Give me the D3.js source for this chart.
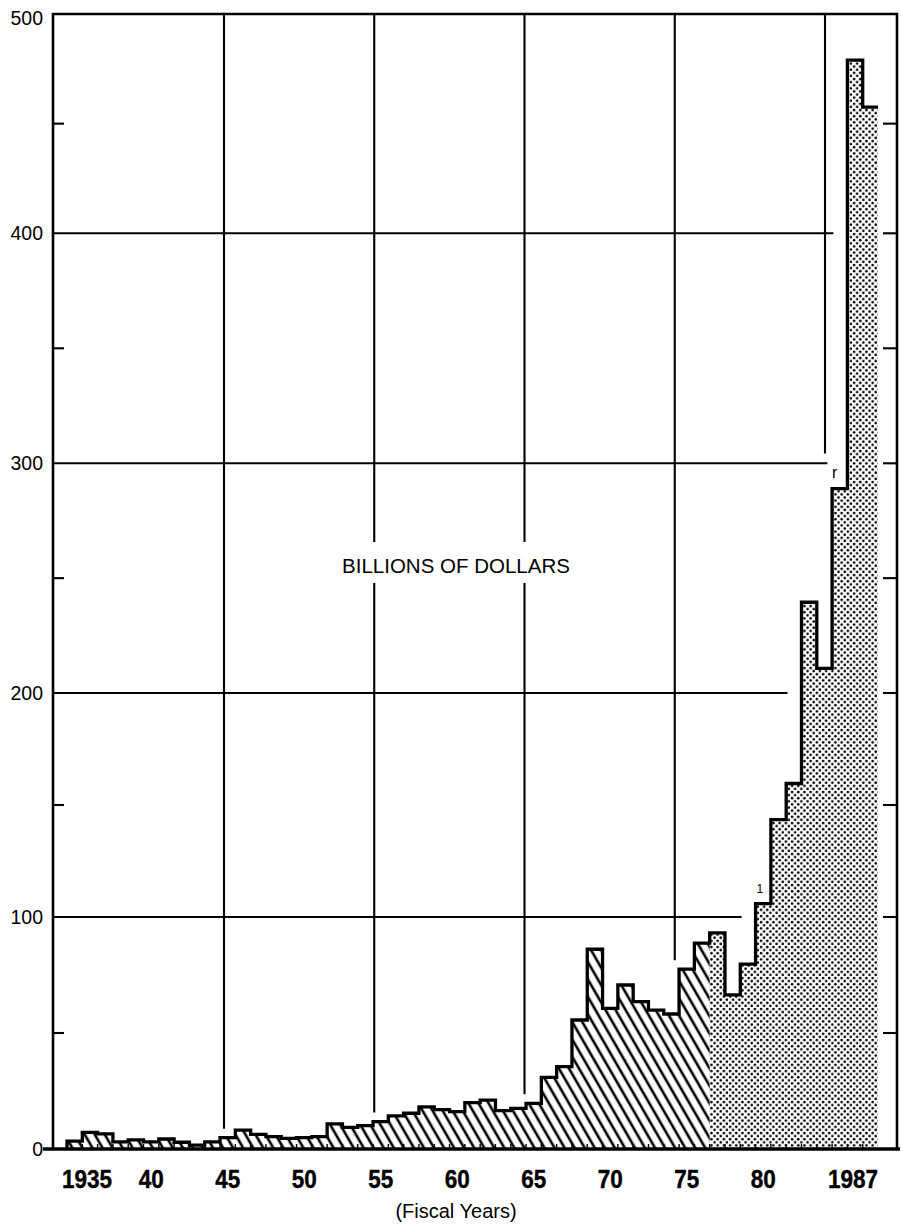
<!DOCTYPE html>
<html>
<head>
<meta charset="utf-8">
<script src="https://cdn.jsdelivr.net/npm/d3@7"></script>
<style>
  html, body { margin: 0; padding: 0; background: #fff; }
  svg { display: block; }
</style>
</head>
<body>
<svg id="chart" width="901" height="1226"></svg>
<script>
// ---------------- DATA ----------------
const years = d3.range(1935, 1988);           // fiscal years 1935..1987
const values = [                              // billions of dollars
  3.4, 7.2, 6.5, 3.1, 3.9, 3.1, 4.3, 2.9, 1.7, 3.1,          // 1935-44
  4.9, 8.1, 6.3, 5.3, 4.6, 4.9, 5.3, 10.8, 9.3, 10.1,        // 1945-54
  11.8, 14.3, 15.4, 18.2, 17.0, 16.1, 20.0, 21.1, 16.5, 17.5,// 1955-64
  19.7, 30.9, 35.5, 55.6, 86.1, 60.6, 70.7, 63.5, 59.9, 58.2,// 1965-74
  77.5, 88.7, 93.2, 66.4, 79.7, 106, 143.5, 159.6, 239.5, 210.7, // 1975-84
  289, 479, 457.5                                             // 1985-87
];
const hatchedYears = years.filter(y => y <= 1976);
const dottedYears  = years.filter(y => y >= 1977);
const tickYears  = [1935, 1940, 1945, 1950, 1955, 1960, 1965, 1970, 1975, 1980, 1987];
const tickLabels = ["1935", "40", "45", "50", "55", "60", "65", "70", "75", "80", "1987"];
const yTicks      = [0, 100, 200, 300, 400, 500];
const yMinorTicks = [50, 150, 250, 350, 450];
const gridYears   = [1945, 1955, 1965, 1975, 1985];
const gridValues  = [100, 200, 300, 400];
const noteYears = [1980, 1985];
const noteTexts = ["1", "r"];
const unitLabel = "BILLIONS OF DOLLARS";
const axisTitle = "(Fiscal Years)";

// ---------------- LAYOUT ----------------
const svg = d3.select("#chart");
const x = d3.scaleBand().domain(years).range([67, 878]).padding(0);
const bw = x.bandwidth();
// hand-drawn grid: piecewise-linear value scale
const y = d3.scaleLinear().domain(yTicks).range([1149, 917, 693, 463.3, 233.3, 14]);
const gx = d3.scaleLinear().domain([1945, 1985]).range([224, 825]);
const frameL = 53, frameR = 897;
const valueOf = yr => values[years.indexOf(yr)];

// ---------------- PATTERNS ----------------
const defs = svg.append("defs");
const hatch = defs.append("pattern")
  .attr("id", "hatch").attr("patternUnits", "userSpaceOnUse")
  .attr("width", 8.7).attr("height", 20)
  .attr("patternTransform", "rotate(-30)");
hatch.append("line")
  .attr("x1", 2).attr("y1", -2).attr("x2", 2).attr("y2", 22)
  .attr("stroke", "#000").attr("stroke-width", 2.6);

const dots = defs.append("pattern")
  .attr("id", "dots").attr("patternUnits", "userSpaceOnUse")
  .attr("width", 6.2).attr("height", 6.2);
dots.append("circle").attr("cx", 1.55).attr("cy", 1.55).attr("r", 1.3).attr("fill", "#000");
dots.append("circle").attr("cx", 4.65).attr("cy", 4.65).attr("r", 1.3).attr("fill", "#000");

// ---------------- GRID ----------------
const grid = svg.append("g").attr("stroke", "#000").attr("stroke-width", 2.1);
gridValues.forEach(v => {
  const first = years.find(yr => valueOf(yr) > v);
  // leave a little more room where a footnote mark sits next to the line
  const nearNote = noteYears.some(n => n < (first ?? Infinity) && Math.abs(y(valueOf(n)) - y(v)) < 40);
  const gap = nearNote ? 20 : 14;
  const xEnd = first !== undefined ? x(first) - gap : frameR;
  grid.append("line").attr("x1", frameL).attr("x2", xEnd).attr("y1", y(v)).attr("y2", y(v));
});
gridYears.forEach(yr => {
  const gap = noteYears.includes(yr) ? 35 : 9;
  grid.append("line")
    .attr("x1", gx(yr)).attr("x2", gx(yr))
    .attr("y1", y(500)).attr("y2", y(valueOf(yr)) - gap);
});

// ticks on left (inner) and right
const ticks = svg.append("g").attr("stroke", "#000").attr("stroke-width", 2.1);
yMinorTicks.forEach(v => {
  ticks.append("line").attr("x1", frameL).attr("x2", frameL + 11).attr("y1", y(v)).attr("y2", y(v));
});
yMinorTicks.concat(gridValues).forEach(v => {
  ticks.append("line").attr("x1", frameR - 14).attr("x2", frameR).attr("y1", y(v)).attr("y2", y(v));
});

// ---------------- BARS ----------------
const stepPts = ys => ys.flatMap(yr => [[x(yr), valueOf(yr)], [x(yr) + bw, valueOf(yr)]]);
const area = d3.area().x(d => d[0]).y0(y(0)).y1(d => y(d[1]));
svg.append("path").attr("d", area(stepPts(hatchedYears))).attr("fill", "url(#hatch)");
svg.append("path").attr("d", area(stepPts(dottedYears))).attr("fill", "url(#dots)");

const outline = d3.line().x(d => d[0]).y(d => y(d[1]));
svg.append("path")
  .attr("d", outline([[x(years[0]), 0]].concat(stepPts(years))))
  .attr("fill", "none").attr("stroke", "#000").attr("stroke-width", 3.3)
  .attr("stroke-linejoin", "miter");

// small bar-boundary ticks at the base
const baseTicks = svg.append("g").attr("stroke", "#000").attr("stroke-width", 1.4);
years.forEach(yr => {
  baseTicks.append("line").attr("x1", x(yr)).attr("x2", x(yr)).attr("y1", y(0)).attr("y2", y(0) - 5);
});

// ---------------- FRAME / BASELINE ----------------
svg.append("path")
  .attr("d", `M${frameL},${y(0)}V${y(500)}H${frameR}V${y(0)}`)
  .attr("fill", "none").attr("stroke", "#000").attr("stroke-width", 2.6);
svg.append("line")
  .attr("x1", 43).attr("x2", 900).attr("y1", y(0)).attr("y2", y(0))
  .attr("stroke", "#000").attr("stroke-width", 3.6);

// ---------------- TEXT ----------------
const font = "'Liberation Sans', Arial, Helvetica, sans-serif";
svg.append("g").selectAll("text").data(yTicks).join("text")
  .attr("x", 43).attr("y", d => y(d) + (d === 500 ? 4 : 0)).attr("dy", "0.36em")
  .attr("text-anchor", "end")
  .attr("font-family", font).attr("font-size", 19.5)
  .text(d => d);

tickYears.forEach((yr, i) => {
  let tx, anchor;
  if (i === 0) { tx = x(yr) - 5; anchor = "start"; }
  else if (i === tickYears.length - 1) { tx = x(yr) + bw; anchor = "end"; }
  else { tx = x(yr) + bw / 2; anchor = "middle"; }
  svg.append("text")
    .attr("transform", `translate(${tx},1188) scale(0.9,1)`)
    .attr("text-anchor", anchor)
    .attr("font-family", font).attr("font-weight", "bold").attr("font-size", 25)
    .attr("stroke", "#000").attr("stroke-width", 0.4)
    .text(tickLabels[i]);
});

svg.append("text")
  .attr("x", 456).attr("y", 1218).attr("text-anchor", "middle")
  .attr("font-family", font).attr("font-size", 20)
  .text(axisTitle);

const unitG = svg.append("g");
const unitText = unitG.append("text")
  .attr("x", 456).attr("y", 573).attr("text-anchor", "middle")
  .attr("font-family", font).attr("font-size", 20.5)
  .text(unitLabel);
const bb = unitText.node().getBBox();
unitG.insert("rect", "text")
  .attr("x", bb.x - 4).attr("y", bb.y - 12).attr("width", bb.width + 8).attr("height", bb.height + 18)
  .attr("fill", "#fff");

noteYears.forEach((yr, i) => {
  svg.append("text")
    .attr("x", x(yr) + (i === 0 ? 1 : 0)).attr("y", y(valueOf(yr)) - 11)
    .attr("font-family", font).attr("font-size", i === 0 ? 12 : 16)
    .attr("fill", "#000")
    .text(noteTexts[i]);
});
</script>
</body>
</html>
